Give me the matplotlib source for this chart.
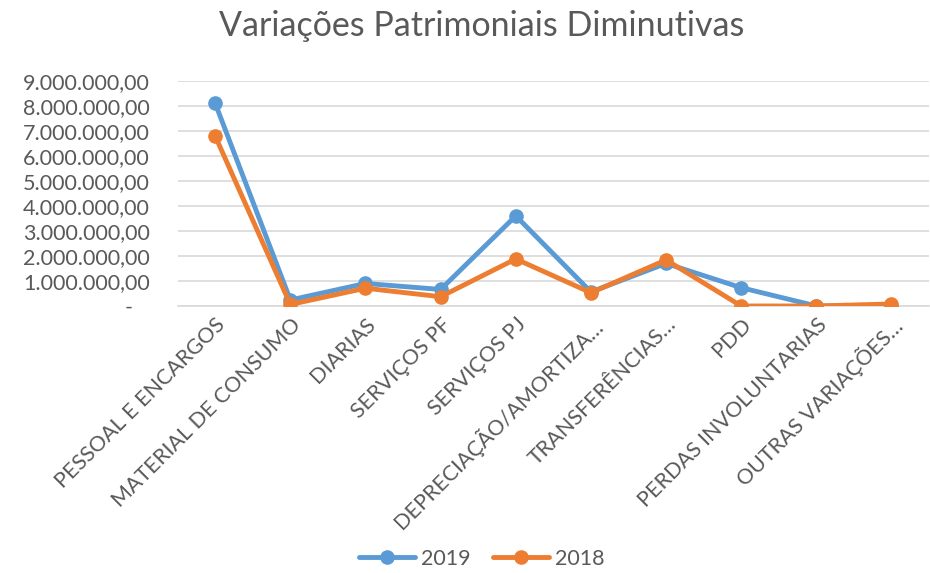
import matplotlib
matplotlib.use("Agg")
import matplotlib.pyplot as plt
from matplotlib.ticker import FuncFormatter

plt.rcParams["font.family"] = ["Lato", "DejaVu Sans"]

# Categorias e valores das variações patrimoniais diminutivas (R$)
categories = [
    "PESSOAL E ENCARGOS",
    "MATERIAL DE CONSUMO",
    "DIARIAS",
    "SERVIÇOS PF",
    "SERVIÇOS PJ",
    "DEPRECIAÇÃO/AMORTIZA…",
    "TRANSFERÊNCIAS…",
    "PDD",
    "PERDAS INVOLUNTARIAS",
    "OUTRAS VARIAÇÕES…",
]
values_2019 = [8100000, 240000, 900000, 660000, 3600000, 560000, 1700000, 730000, 0, 10000]
values_2018 = [6790000, 60000, 710000, 370000, 1880000, 530000, 1840000, 0, 0, 80000]
series_labels = ["2019", "2018"]
y_ticks = [0, 1000000, 2000000, 3000000, 4000000, 5000000, 6000000, 7000000, 8000000, 9000000]

BLUE = "#5B9BD5"
ORANGE = "#ED7D31"
TEXT = "#595959"


def fmt_brl(v, _pos=None):
    # formato contábil: zero aparece como traço
    if v == 0:
        return "-   "
    s = f"{v:,.2f}"
    return s.replace(",", "X").replace(".", ",").replace("X", ".")


fig = plt.figure(figsize=(9.3, 5.73), dpi=100)
ax = fig.add_axes([0.191, 0.466, 0.808, 0.393])

x = list(range(len(categories)))
for vals, color, label in zip([values_2019, values_2018], [BLUE, ORANGE], series_labels):
    ax.plot(x, vals, color=color, linewidth=3.5, marker="o", markersize=9.5,
            solid_capstyle="round", label=label, zorder=3)

ax.set_xlim(-0.5, len(categories) - 0.5)
ax.set_ylim(0, 9000000)
ax.set_yticks(y_ticks)
ax.yaxis.set_major_formatter(FuncFormatter(fmt_brl))
ax.grid(axis="y", color="#D9D9D9", linewidth=1.2, zorder=0)
for side in ["top", "right", "left"]:
    ax.spines[side].set_visible(False)
ax.spines["bottom"].set_color("#D9D9D9")
ax.spines["bottom"].set_linewidth(1.2)
ax.tick_params(axis="both", length=0, colors=TEXT, labelsize=15.5)
ax.tick_params(axis="y", pad=20)

ax.set_xticks(x)
ax.set_xticklabels(categories, rotation=45, ha="right", rotation_mode="anchor")
for lbl in ax.get_xticklabels():
    lbl.set_color(TEXT)
ax.tick_params(axis="x", pad=6)

fig.text(0.518, 0.955, "Variações Patrimoniais Diminutivas", ha="center", va="center",
         fontsize=24.5, color=TEXT)

leg = fig.legend(loc="center", bbox_to_anchor=(0.518, 0.025), ncol=2, frameon=False,
                 fontsize=15.5, handlelength=2.6, columnspacing=1.0, handletextpad=0.3)
for t in leg.get_texts():
    t.set_color(TEXT)

fig.savefig("out.png", dpi=100)
